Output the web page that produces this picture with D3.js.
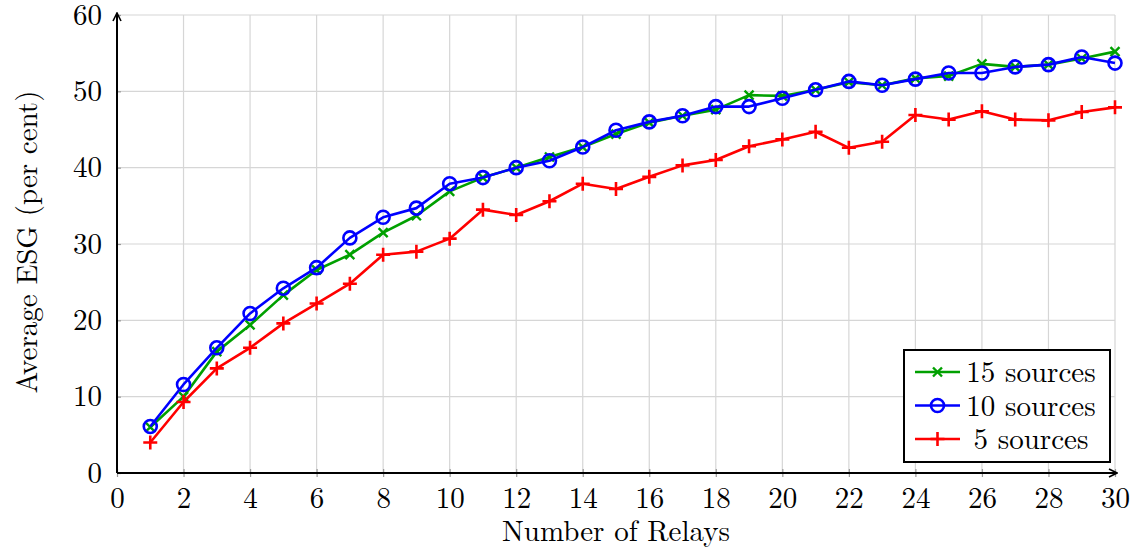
<!DOCTYPE html>
<html>
<head>
<meta charset="utf-8">
<script src="https://cdn.jsdelivr.net/npm/d3@7"></script>
<style>
  body { margin: 0; background: #fff; }
</style>
</head>
<body>
<svg id="chart" width="1137" height="552"></svg>
<script>
const width = 1137;
const height = 552;
const margin = { top: 15, right: 22, bottom: 79, left: 117 };

// Data
const relays = d3.range(1, 31);
const sources15 = [6.0, 10.0, 15.9, 19.4, 23.3, 26.6, 28.6, 31.5, 33.7, 36.9,
  38.7, 40.0, 41.4, 42.7, 44.4, 45.9, 46.8, 47.6, 49.5, 49.4,
  50.2, 51.2, 50.8, 51.7, 52.0, 53.6, 53.2, 53.5, 54.3, 55.2];
const sources10 = [6.1, 11.6, 16.4, 20.9, 24.2, 26.9, 30.8, 33.5, 34.7, 37.9,
  38.7, 40.0, 40.9, 42.7, 44.9, 46.0, 46.8, 48.0, 48.0, 49.1,
  50.2, 51.3, 50.8, 51.6, 52.4, 52.4, 53.2, 53.5, 54.5, 53.7];
const sources5 = [4.0, 9.3, 13.7, 16.4, 19.6, 22.2, 24.8, 28.6, 29.0, 30.7,
  34.5, 33.8, 35.6, 37.9, 37.2, 38.8, 40.3, 41.0, 42.8, 43.7,
  44.7, 42.6, 43.4, 46.9, 46.3, 47.4, 46.3, 46.2, 47.3, 47.9];
const xTicks = d3.range(0, 31, 2);
const yTicks = [0, 10, 20, 30, 40, 50, 60];

const series = [
  { name: "15 sources", values: sources15, color: "#00a000", marker: "x" },
  { name: "10 sources", values: sources10, color: "#0000ff", marker: "o" },
  { name: "5 sources", values: sources5, color: "#ff0000", marker: "+" }
];

const svg = d3.select("#chart");
const fontFamily = "'Latin Modern Roman', 'Liberation Serif', serif";
const fontSize = 29;

const xScale = d3.scaleLinear().domain([0, 30]).range([margin.left, width - margin.right]);
const yScale = d3.scaleLinear().domain([0, 60]).range([height - margin.bottom, margin.top]);

const x0 = xScale(0), x1 = xScale(30), y0 = yScale(0), y1 = yScale(60);

// Grid
const grid = svg.append("g");
grid.selectAll(".gx").data(xTicks.filter(d => d > 0)).enter().append("line")
  .attr("x1", d => xScale(d)).attr("x2", d => xScale(d))
  .attr("y1", y0).attr("y2", y1)
  .attr("stroke", "#d6d6d6").attr("stroke-width", 1.2);
grid.selectAll(".gy").data(yTicks.filter(d => d > 0)).enter().append("line")
  .attr("x1", x0).attr("x2", x1)
  .attr("y1", d => yScale(d)).attr("y2", d => yScale(d))
  .attr("stroke", "#d6d6d6").attr("stroke-width", 1.2);

// Axes
const xAxis = d3.axisBottom(xScale).tickValues(xTicks).tickSize(4).tickPadding(10);
const yAxis = d3.axisLeft(yScale).tickValues(yTicks).tickSize(4).tickPadding(11);

const gx = svg.append("g").attr("transform", `translate(0, ${y0})`).call(xAxis);
const gy = svg.append("g").attr("transform", `translate(${x0}, 0)`).call(yAxis);
[gx, gy].forEach(g => {
  g.attr("font-family", fontFamily).attr("font-size", fontSize);
  g.select(".domain").remove();
  g.selectAll(".tick line").attr("stroke", "#999").attr("stroke-width", 1.2);
  g.selectAll(".tick text").attr("fill", "#000");
});
gx.selectAll(".tick line").attr("y1", -4);
gy.selectAll(".tick line").attr("x2", 4);

// Axis lines with arrows
const defs = svg.append("defs");
defs.append("marker").attr("id", "arrow")
  .attr("viewBox", "0 0 10 10").attr("refX", 9).attr("refY", 5)
  .attr("markerWidth", 5).attr("markerHeight", 5).attr("orient", "auto")
  .append("path").attr("d", "M1,1 L9,5 L1,9").attr("fill", "none")
  .attr("stroke", "#000").attr("stroke-width", 1.6);

svg.append("line").attr("x1", x0).attr("y1", y0).attr("x2", x1 + 2).attr("y2", y0)
  .attr("stroke", "#000").attr("stroke-width", 2).attr("marker-end", "url(#arrow)");
svg.append("line").attr("x1", x0).attr("y1", y0).attr("x2", x0).attr("y2", y1 - 2)
  .attr("stroke", "#000").attr("stroke-width", 2).attr("marker-end", "url(#arrow)");

// Markers
function drawMarker(g, type, color, cx, cy) {
  if (type === "o") {
    g.append("circle").attr("cx", cx).attr("cy", cy).attr("r", 6.5)
      .attr("fill", "none").attr("stroke", color).attr("stroke-width", 2.6);
  } else if (type === "x") {
    const s = 4.5;
    g.append("path")
      .attr("d", `M${cx - s},${cy - s}L${cx + s},${cy + s}M${cx - s},${cy + s}L${cx + s},${cy - s}`)
      .attr("stroke", color).attr("stroke-width", 2.4);
  } else {
    const s = 7;
    g.append("path")
      .attr("d", `M${cx - s},${cy}L${cx + s},${cy}M${cx},${cy - s}L${cx},${cy + s}`)
      .attr("stroke", color).attr("stroke-width", 2.6);
  }
}

const line = d3.line().x((d, i) => xScale(relays[i])).y(d => yScale(d));

series.forEach(s => {
  const g = svg.append("g");
  g.append("path").datum(s.values).attr("d", line)
    .attr("fill", "none").attr("stroke", s.color).attr("stroke-width", 2.6)
    .attr("stroke-linejoin", "round");
  s.values.forEach((v, i) => drawMarker(g, s.marker, s.color, xScale(relays[i]), yScale(v)));
});

// Legend
const lg = svg.append("g").attr("transform", "translate(904, 350)");
lg.append("rect").attr("width", 206).attr("height", 112)
  .attr("fill", "#fff").attr("stroke", "#000").attr("stroke-width", 2);
series.forEach((s, i) => {
  const cy = 22 + i * 33.5;
  lg.append("line").attr("x1", 11).attr("x2", 56).attr("y1", cy).attr("y2", cy)
    .attr("stroke", s.color).attr("stroke-width", 2.6);
  drawMarker(lg, s.marker, s.color, 33.5, cy);
  lg.append("text").attr("x", 127).attr("y", cy + 10)
    .attr("text-anchor", "middle").attr("font-family", fontFamily)
    .attr("font-size", fontSize).text(s.name);
});

// Axis titles
svg.append("text").attr("x", (x0 + x1) / 2).attr("y", 541)
  .attr("text-anchor", "middle").attr("font-family", fontFamily)
  .attr("font-size", fontSize).text("Number of Relays");
svg.append("text").attr("transform", `translate(37, ${(y0 + y1) / 2 - 2}) rotate(-90)`)
  .attr("text-anchor", "middle").attr("font-family", fontFamily)
  .attr("font-size", fontSize).text("Average ESG (per cent)");
</script>
</body>
</html>
